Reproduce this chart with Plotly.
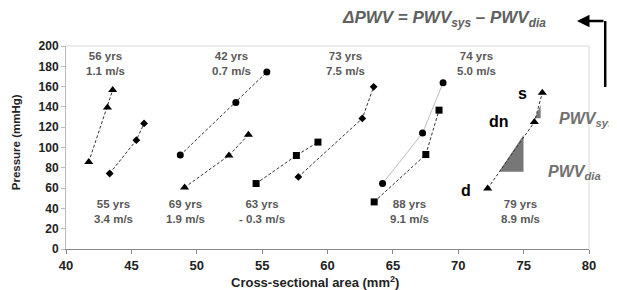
import plotly.graph_objects as go

# ---------------- data ----------------
subjects = ["56 yrs", "55 yrs", "42 yrs", "69 yrs", "63 yrs", "73 yrs", "74 yrs", "88 yrs", "79 yrs"]
pwv_labels = ["1.1 m/s", "3.4 m/s", "0.7 m/s", "1.9 m/s", "- 0.3 m/s", "7.5 m/s", "5.0 m/s", "9.1 m/s", "8.9 m/s"]

area_56 = [41.74, 43.17, 43.57]
press_56 = [85.8, 139.5, 156.6]
area_55 = [43.34, 45.38, 45.97]
press_55 = [74.4, 107.2, 123.7]
area_42 = [48.74, 52.99, 55.36]
press_42 = [92.5, 144.4, 174.3]
area_69 = [49.07, 52.46, 53.95]
press_69 = [60.6, 92.1, 112.5]
area_63 = [54.54, 57.62, 59.27]
press_63 = [64.5, 92.1, 105.3]
area_73 = [57.77, 62.66, 63.53]
press_73 = [71.0, 128.6, 159.8]
area_74 = [64.21, 67.27, 68.84]
press_74 = [64.5, 114.2, 163.8]
area_88 = [63.57, 67.52, 68.53]
press_88 = [46.4, 93.1, 136.8]
area_79 = [72.25, 75.82, 76.43]
press_79 = [59.6, 125.0, 153.9]

point_labels_79 = ["d", "dn", "s"]

# shaded slope wedges (PWV_dia and PWV_sys)
wedge_dia_x = [73.11, 74.99, 74.99]
wedge_dia_y = [76.0, 76.0, 112.2]
wedge_sys_x = [75.86, 76.30, 76.30]
wedge_sys_y = [128.7, 128.7, 141.8]

x_ticks = [40, 45, 50, 55, 60, 65, 70, 75, 80]
y_ticks = [0, 20, 40, 60, 80, 100, 120, 140, 160, 180, 200]

FONT = "Liberation Sans, Arial, sans-serif"

series = [
    (area_56, press_56, "triangle-up", "dash"),
    (area_55, press_55, "diamond", "dash"),
    (area_42, press_42, "circle", "dash"),
    (area_69, press_69, "triangle-up", "dash"),
    (area_63, press_63, "square", "dash"),
    (area_73, press_73, "diamond", "dash"),
    (area_74, press_74, "circle", "solid"),
    (area_88, press_88, "square", "dash"),
    (area_79, press_79, "triangle-up", "dash"),
]

fig = go.Figure()

# wedges
for wx, wy in [(wedge_dia_x, wedge_dia_y), (wedge_sys_x, wedge_sys_y)]:
    fig.add_trace(go.Scatter(x=wx, y=wy, mode="lines", fill="toself",
                             fillcolor="#777777", line=dict(width=0),
                             hoverinfo="skip", showlegend=False))

for ax_, py_, sym, dash in series:
    if dash == "solid":
        line = dict(color="#bdbdbd", width=1)
    else:
        line = dict(color="#333333", width=1, dash="3px,2px")
    fig.add_trace(go.Scatter(
        x=ax_, y=py_, mode="lines+markers", line=line,
        marker=dict(symbol=sym, color="black",
                    size=8 if sym == "triangle-up" else (6 if sym == "diamond" else 7)),
        showlegend=False))

# subject labels (age / delta PWV)
label_pos = [
    (43.02, 182.5), (43.6, 37.2), (52.69, 182.5), (49.12, 37.2), (54.98, 37.2),
    (61.34, 182.5), (71.39, 182.5), (66.3, 37.2), (74.75, 37.2),
]
annotations = []
for (lx, ly), s, v in zip(label_pos, subjects, pwv_labels):
    annotations.append(dict(x=lx, y=ly, xref="x", yref="y", showarrow=False,
                            xanchor="center", yanchor="middle",
                            text=f"{s}<br>{v}",
                            font=dict(family=FONT, size=11.5, color="#595959", weight="bold"),
                            align="center"))

# d / dn / s labels
dlab_pos = [(70.57, 57.2), (73.11, 126.0), (74.9, 153.3)]
for (lx, ly), t in zip(dlab_pos, point_labels_79):
    annotations.append(dict(x=lx, y=ly, xref="x", yref="y", showarrow=False, text=t,
                            xanchor="center", yanchor="middle",
                            font=dict(family=FONT, size=16, color="black", weight="bold")))

# PWV labels outside plot
annotations.append(dict(x=0.939, y=0.64, xref="paper", yref="paper", xanchor="left",
                        yanchor="middle", showarrow=False,
                        text="<i>PWV<sub>sys</sub></i>",
                        font=dict(family=FONT, size=16, color="#707070", weight="bold")))
annotations.append(dict(x=0.917, y=0.375, xref="paper", yref="paper", xanchor="left",
                        yanchor="middle", showarrow=False,
                        text="<i>PWV<sub>dia</sub></i>",
                        font=dict(family=FONT, size=16, color="#707070", weight="bold")))

# top formula
annotations.append(dict(x=0.524, y=1.135, xref="paper", yref="paper", xanchor="left",
                        yanchor="middle", showarrow=False,
                        text="<i>ΔPWV = PWV<sub>sys</sub> – PWV<sub>dia</sub></i>",
                        font=dict(family=FONT, size=17, color="#606060", weight="bold")))

# arrow
annotations.append(dict(x=0.977, y=1.123, xref="paper", yref="paper", ax=28, ay=0,
                        axref="pixel", ayref="pixel", showarrow=True, text="",
                        arrowhead=2, arrowsize=1, arrowwidth=2.5, arrowcolor="black"))

# axis titles
annotations.append(dict(x=0.477, y=-0.163, xref="paper", yref="paper", showarrow=False,
                        xanchor="center", yanchor="middle",
                        text="Cross-sectional area (mm<sup>2</sup>)",
                        font=dict(family=FONT, size=13, color="#222222", weight="bold")))
annotations.append(dict(x=-0.094, y=0.525, xref="paper", yref="paper", showarrow=False,
                        xanchor="center", yanchor="middle",
                        textangle=-90, text="Pressure (mmHg)",
                        font=dict(family=FONT, size=11.5, color="#222222", weight="bold")))

shapes = [
    dict(type="line", xref="paper", yref="paper", x0=0, x1=1, y0=1, y1=1,
         line=dict(color="#d9d9d9", width=1)),
    dict(type="line", xref="paper", yref="paper", x0=1, x1=1, y0=0, y1=1,
         line=dict(color="#d9d9d9", width=1)),
    dict(type="line", xref="paper", yref="paper", x0=1.031, x1=1.031, y0=1.123, y1=0.798,
         line=dict(color="black", width=2.5)),
]

# the page body adds an 8px offset; compensate in figure size / margins
fig.update_layout(
    width=609, height=282, autosize=False,
    margin=dict(l=58, r=28, t=38, b=41),
    paper_bgcolor="white", plot_bgcolor="white",
    font=dict(family=FONT),
    annotations=annotations, shapes=shapes,
    xaxis=dict(range=[40, 80], tickvals=x_ticks, showgrid=False, zeroline=False,
               showline=True, linecolor="#888888", linewidth=1,
               ticks="outside", ticklen=4, tickcolor="#888888",
               tickfont=dict(family=FONT, size=13, color="#222222", weight="bold")),
    yaxis=dict(range=[0, 200], tickvals=y_ticks, showgrid=False, zeroline=False,
               showline=True, linecolor="#bbbbbb", linewidth=1,
               ticks="outside", ticklen=4, tickcolor="#bbbbbb",
               tickfont=dict(family=FONT, size=12, color="#222222", weight="bold")),
)

fig.write_html("out.html")
